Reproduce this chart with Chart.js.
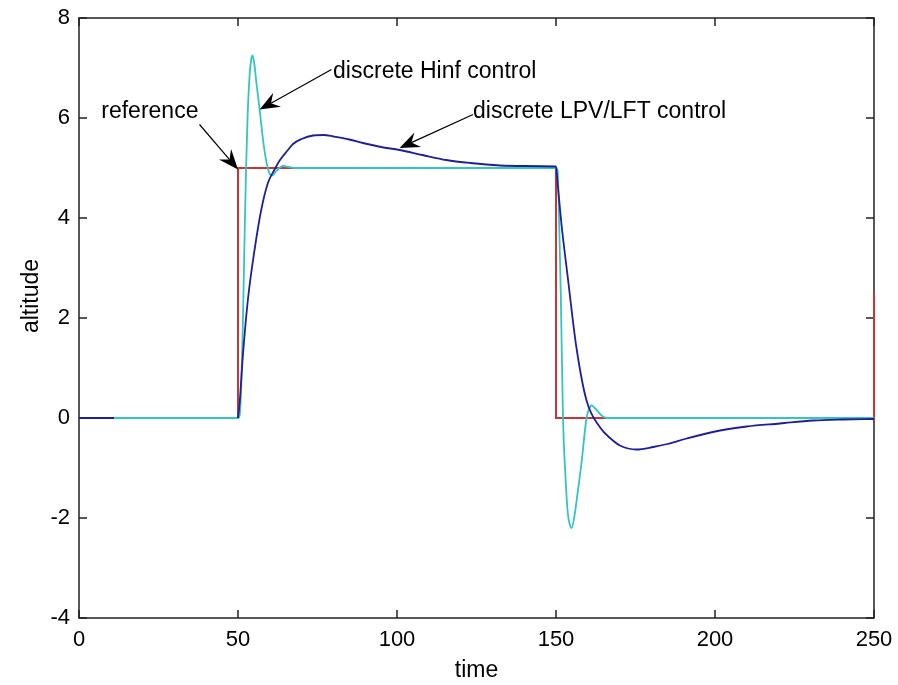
<!DOCTYPE html>
<html>
<head>
<meta charset="utf-8">
<title>altitude vs time</title>
<script src="https://cdn.jsdelivr.net/npm/chart.js@4.4.0/dist/chart.umd.min.js"></script>
<style>
  html, body { margin: 0; padding: 0; background: #fff; }
  #wrap { width: 898px; height: 685px; }
</style>
</head>
<body>
<div id="wrap"><canvas id="chart" width="898" height="685"></canvas></div>
<script>
// reference step
const refT = [0, 50, 50, 150, 150, 250, 250];
const refY = [0, 0, 5, 5, 0, 0, 2.5];

// discrete Hinf control (cyan)
const hinfT = [0, 50, 50.5, 51, 51.5, 52, 52.5, 53, 53.6, 54.1,
  54.6, 55.1, 55.8, 56.8, 58, 59, 60, 60.8, 61.8, 63,
  64.2, 66, 68, 150, 150.5, 151, 151.5, 152.2, 153, 153.7,
  154.3, 154.9, 155.9, 157, 158, 159.6, 160.4, 161.2, 162.5, 164.3,
  166, 250];
const hinfY = [0, 0, 0.05, 0.6, 1.8, 3.4, 4.9, 6.0, 6.8, 7.15,
  7.25, 7.1, 6.7, 6.17, 5.5, 5.1, 4.88, 4.85, 4.92, 5.0,
  5.04, 5.02, 5.0, 5.0, 4.95, 3.9, 2.5, 0, -1.2, -1.9,
  -2.12, -2.2, -1.92, -1.4, -0.91, 0, 0.18, 0.25, 0.18, 0.05,
  0, 0];

// discrete LPV/LFT control (blue) - only the first stub is visible before the step
const lpvT = [0, 11, 11.5, 50, 50.5, 51.5, 53.1, 55.2, 57.3, 59.4,
  61.5, 63.1, 65.7, 67.3, 70, 73.6, 77, 80, 85, 89.3,
  95, 100.8, 108, 115.5, 123, 132.3, 140, 150, 150.5, 151.7,
  153.8, 156.4, 159.6, 164, 167, 170.1, 175.3, 180.6, 185, 191.1,
  201.6, 210, 220.4, 230.9, 240, 250];
const lpvY = [0, 0, null, 0, 0.29, 1.22, 2.36, 3.36, 4.16, 4.7,
  4.97, 5.15, 5.36, 5.48, 5.58, 5.65, 5.66, 5.63, 5.57, 5.5,
  5.42, 5.36, 5.26, 5.16, 5.1, 5.05, 5.04, 5.03, 4.7, 3.89,
  2.76, 1.42, 0.35, -0.2, -0.4, -0.55, -0.63, -0.58, -0.52, -0.41,
  -0.25, -0.17, -0.11, -0.05, -0.03, -0.02];

const xTicks = [0, 50, 100, 150, 200, 250];
const yTicks = [-4, -2, 0, 2, 4, 6, 8];

// text labels with arrows, in data units
const noteText = ['reference', 'discrete Hinf control', 'discrete LPV/LFT control'];
const noteAt = [[7.0, 6.13], [79.9, 6.93], [123.9, 6.13]];
const noteFrom = [[37.9, 5.87], [79.4, 6.97], [123.9, 6.07]];
const noteTo = [[50, 4.97], [56.8, 6.17], [100.8, 5.4]];

const FONT = "'Liberation Sans', Arial, sans-serif";

function pts(t, y) {
  return t.map((v, i) => ({ x: v, y: y[i] }));
}

function drawArrow(ctx, x1, y1, x2, y2) {
  const a = Math.atan2(y2 - y1, x2 - x1);
  const c = Math.cos(a), s = Math.sin(a);
  const len = 20, half = 8, back = 13;
  ctx.beginPath();
  ctx.moveTo(x1, y1);
  ctx.lineTo(x2 - c * back, y2 - s * back);
  ctx.stroke();
  const bx = x2 - c * len, by = y2 - s * len;
  ctx.beginPath();
  ctx.moveTo(x2, y2);
  ctx.lineTo(bx - s * half, by + c * half);
  ctx.lineTo(x2 - c * back, y2 - s * back);
  ctx.lineTo(bx + s * half, by - c * half);
  ctx.closePath();
  ctx.fill();
}

// matlab style box with inward ticks on all four sides
const framePlugin = {
  id: 'frame',
  beforeDatasetsDraw(chart) {
    const { ctx, chartArea: a, scales: { x, y } } = chart;
    ctx.save();
    ctx.strokeStyle = '#222';
    ctx.lineWidth = 1.5;
    ctx.strokeRect(a.left, a.top, a.right - a.left, a.bottom - a.top);
    ctx.beginPath();
    xTicks.forEach(v => {
      const px = x.getPixelForValue(v);
      ctx.moveTo(px, a.bottom); ctx.lineTo(px, a.bottom - 8);
      ctx.moveTo(px, a.top); ctx.lineTo(px, a.top + 8);
    });
    yTicks.forEach(v => {
      const py = y.getPixelForValue(v);
      ctx.moveTo(a.left, py); ctx.lineTo(a.left + 8, py);
      ctx.moveTo(a.right, py); ctx.lineTo(a.right - 8, py);
    });
    ctx.stroke();
    ctx.restore();
  },
  afterDraw(chart) {
    const { ctx, scales: { x, y } } = chart;
    ctx.save();
    ctx.fillStyle = '#000';
    ctx.strokeStyle = '#000';
    ctx.lineWidth = 1.2;
    ctx.font = '23px ' + FONT;
    ctx.textAlign = 'left';
    ctx.textBaseline = 'middle';
    noteText.forEach((txt, i) => {
      ctx.fillText(txt, x.getPixelForValue(noteAt[i][0]), y.getPixelForValue(noteAt[i][1]));
      drawArrow(ctx,
        x.getPixelForValue(noteFrom[i][0]), y.getPixelForValue(noteFrom[i][1]),
        x.getPixelForValue(noteTo[i][0]), y.getPixelForValue(noteTo[i][1]));
    });
    // y axis title, placed a bit above the axis centre like the original
    ctx.translate(32, 296);
    ctx.rotate(-Math.PI / 2);
    ctx.textAlign = 'center';
    ctx.fillText('altitude', 0, 0);
    ctx.restore();
  }
};

const ctx = document.getElementById('chart').getContext('2d');

new Chart(ctx, {
  type: 'scatter',
  data: {
    datasets: [{
      label: 'discrete LPV/LFT control',
      data: pts(lpvT, lpvY),
      showLine: true,
      borderColor: '#1f1f96',
      borderWidth: 1.8,
      pointRadius: 0,
      cubicInterpolationMode: 'monotone',
      spanGaps: false,
      order: 1
    }, {
      label: 'discrete Hinf control',
      data: pts(hinfT, hinfY),
      showLine: true,
      borderColor: '#33c4c4',
      borderWidth: 1.8,
      pointRadius: 0,
      cubicInterpolationMode: 'monotone',
      order: 2
    }, {
      label: 'reference',
      data: pts(refT, refY),
      showLine: true,
      borderColor: '#cc3333',
      borderWidth: 2,
      pointRadius: 0,
      clip: 3,
      order: 3
    }]
  },
  options: {
    responsive: false,
    animation: false,
    layout: { padding: { top: 18, right: 24, left: 0, bottom: 0 } },
    plugins: {
      legend: { display: false },
      tooltip: { enabled: false }
    },
    scales: {
      x: {
        type: 'linear',
        min: 0,
        max: 250,
        afterBuildTicks: s => { s.ticks = xTicks.map(v => ({ value: v })); },
        afterFit: s => { s.height = 67; s.paddingLeft = 0; s.paddingRight = 0; },
        grid: { display: false, drawTicks: false },
        border: { display: false },
        ticks: { color: '#000', font: { family: FONT, size: 22 }, padding: 9, maxRotation: 0 },
        title: { display: true, text: 'time', color: '#000', font: { family: FONT, size: 23 }, padding: { top: 0, bottom: 1 } }
      },
      y: {
        type: 'linear',
        min: -4,
        max: 8,
        afterBuildTicks: s => { s.ticks = yTicks.map(v => ({ value: v })); },
        afterFit: s => { s.width = 79; s.paddingTop = 0; s.paddingBottom = 0; },
        grid: { display: false, drawTicks: false },
        border: { display: false },
        ticks: { color: '#000', font: { family: FONT, size: 22 }, padding: 9 }
      }
    }
  },
  plugins: [framePlugin]
});
</script>
</body>
</html>
